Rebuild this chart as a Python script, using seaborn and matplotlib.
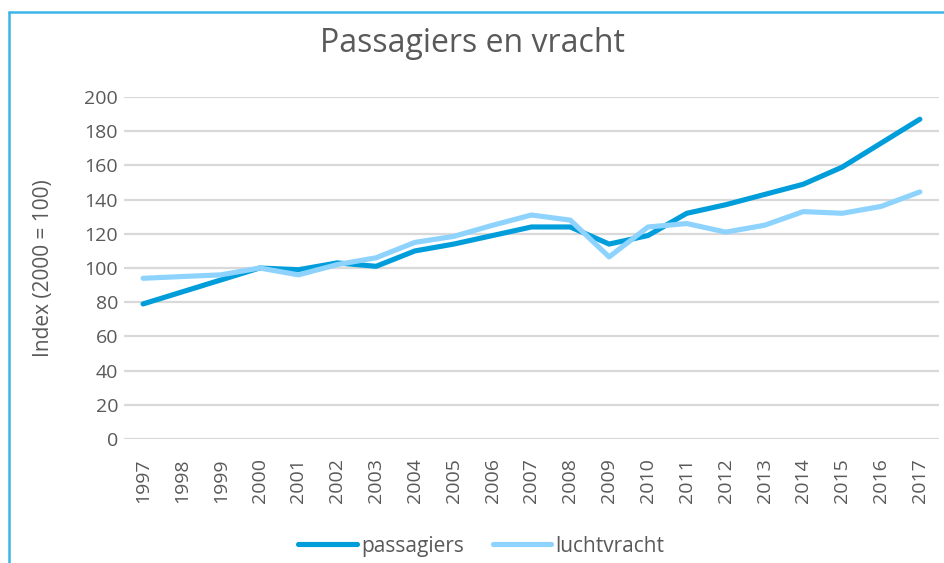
import pandas as pd
import matplotlib
matplotlib.use("Agg")
import matplotlib.pyplot as plt
import seaborn as sns
from matplotlib.lines import Line2D

# Data (index 2000 = 100)
jaren = list(range(1997, 2018))
passagiers = [79, 86, 93, 100, 99, 103, 101, 110, 114, 119, 124, 124, 114, 119, 132, 137, 143, 149, 159, 173, 187]
luchtvracht = [94, 95, 96, 100, 96, 102, 106, 115, 118.5, 125, 131, 128, 106.5, 124, 126, 121, 125, 133, 132, 136, 144.5]

kleur_pas = "#009DDB"
kleur_vracht = "#8DD3FE"
grijs = "#595959"

df = pd.DataFrame({"jaar": jaren, "passagiers": passagiers, "luchtvracht": luchtvracht})
df_long = df.melt(id_vars="jaar", var_name="reeks", value_name="index")

sns.set_style("white")
plt.rcParams["font.family"] = ["Open Sans", "DejaVu Sans"]

fig = plt.figure(figsize=(9.44, 5.63), dpi=100)
ax = fig.add_axes([0.131, 0.2202, 0.864, 0.6075])

sns.lineplot(data=df_long, x="jaar", y="index", hue="reeks",
             palette={"passagiers": kleur_pas, "luchtvracht": kleur_vracht},
             hue_order=["passagiers", "luchtvracht"],
             linewidth=3.7, ax=ax, legend=False, zorder=3)

ax.set_xlim(1996.5, 2017.5)
ax.set_ylim(0, 200)
ax.set_yticks(range(0, 201, 20))
ax.set_xticks(jaren)
ax.set_xticklabels([str(j) for j in jaren], rotation=90)
ax.grid(axis="y", color="#D9D9D9", linewidth=1.6)
ax.grid(axis="x", visible=False)
for s in ax.spines.values():
    s.set_visible(False)
ax.tick_params(axis="both", length=0, colors=grijs, labelsize=14)
ax.tick_params(axis="y", pad=4)
ax.tick_params(axis="x", pad=14)
ax.set_xlabel("")
ax.set_ylabel("Index (2000 = 100)", fontsize=15, color=grijs, labelpad=22)

fig.text(0.5, 0.922, "Passagiers en vracht", ha="center", va="center", fontsize=23, color=grijs)

handles = [Line2D([], [], color=kleur_pas, linewidth=3.7, solid_capstyle="round"),
           Line2D([], [], color=kleur_vracht, linewidth=3.7, solid_capstyle="round")]
leg = fig.legend(handles, ["passagiers", "luchtvracht"], loc="center", bbox_to_anchor=(0.51, 0.03),
                 ncol=2, frameon=False, fontsize=15, handlelength=2.8, handletextpad=0.2,
                 columnspacing=1.4)
for t in leg.get_texts():
    t.set_color(grijs)

# blauwe rand linksboven
fig.add_artist(Line2D([0.0095, 1.0], [0.9787, 0.9787], color="#3DB5E6", linewidth=1.8, transform=fig.transFigure))
fig.add_artist(Line2D([0.0095, 0.0095], [0.0, 0.9787], color="#3DB5E6", linewidth=1.8, transform=fig.transFigure))

fig.savefig("out.png", dpi=100)
